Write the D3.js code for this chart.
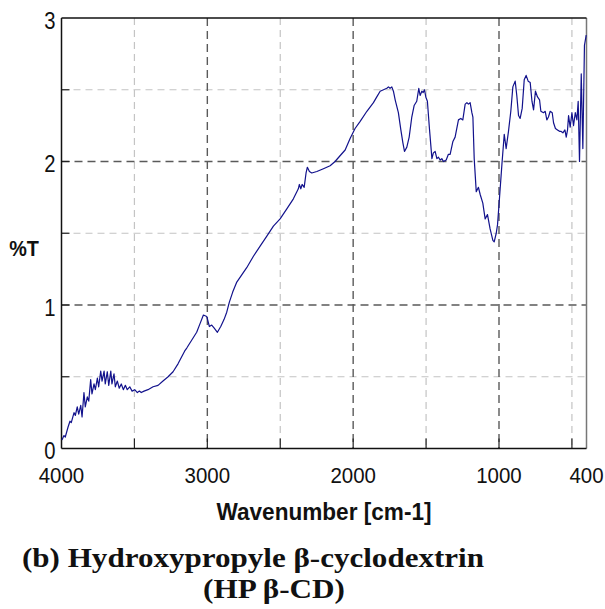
<!DOCTYPE html>
<html>
<head>
<meta charset="utf-8">
<script src="https://cdn.jsdelivr.net/npm/d3@7"></script>
<style>
  html, body { margin: 0; padding: 0; background: #fff; }
  svg { display: block; }
</style>
</head>
<body>
<svg id="chart" width="605" height="609"></svg>
<script>
// Spectrum (wavenumber cm-1, %T)
const wavenumber = [3997,3983,3974,3955,3942,3933,3914,3905,3892,3882,3868,3859,3846,3837,3823,3813,3800,3791,3777,3768,3754,3745,3731,3722,3708,3700,3686,3676,3662,3654,3640,3631,3617,3604,3590,3576,3562,3549,3532,3516,3498,3480,3466,3453,3434,3407,3372,3338,3304,3269,3235,3201,3155,3141,3073,3050,3027,3004,2986,2970,2954,2931,2908,2885,2867,2849,2826,2798,2764,2730,2684,2638,2592,2547,2501,2455,2410,2376,2369,2359,2350,2336,2323,2314,2300,2284,2249,2204,2158,2124,2090,2055,2021,1987,1952,1906,1861,1838,1815,1792,1769,1758,1747,1735,1724,1712,1690,1673,1659,1648,1632,1616,1598,1582,1564,1550,1541,1529,1520,1511,1502,1491,1477,1460,1450,1438,1426,1415,1403,1392,1381,1362,1347,1335,1316,1301,1278,1262,1248,1232,1220,1210,1198,1186,1179,1170,1156,1141,1129,1111,1095,1079,1061,1042,1033,1019,1010,997,980,964,951,935,919,905,889,878,866,855,841,827,814,800,786,774,763,750,736,722,713,695,683,672,661,649,635,626,613,599,585,576,562,548,539,530,523,512,500,489,477,466,457,448,436,425,414,402];
const transmittance = [0.06,0.09,0.08,0.15,0.19,0.18,0.25,0.23,0.29,0.24,0.30,0.22,0.39,0.29,0.36,0.33,0.48,0.38,0.45,0.41,0.49,0.43,0.54,0.47,0.54,0.45,0.535,0.44,0.54,0.45,0.52,0.43,0.47,0.42,0.45,0.41,0.44,0.41,0.43,0.40,0.41,0.39,0.40,0.39,0.40,0.41,0.43,0.44,0.47,0.50,0.535,0.59,0.68,0.70,0.81,0.87,0.93,0.92,0.85,0.86,0.84,0.81,0.85,0.90,0.95,1.02,1.09,1.16,1.21,1.26,1.34,1.41,1.48,1.55,1.60,1.67,1.74,1.81,1.84,1.81,1.84,1.82,1.92,1.96,1.93,1.92,1.93,1.95,1.97,2.00,2.04,2.08,2.16,2.23,2.28,2.35,2.41,2.45,2.49,2.50,2.51,2.52,2.51,2.52,2.49,2.43,2.34,2.22,2.13,2.07,2.10,2.17,2.31,2.39,2.42,2.51,2.46,2.49,2.48,2.50,2.45,2.42,2.23,2.02,2.06,2.07,2.02,2.03,2.01,2.02,2.00,2.01,2.05,2.05,2.14,2.17,2.29,2.30,2.29,2.40,2.41,2.40,2.41,2.34,2.31,2.02,1.79,1.82,1.77,1.71,1.60,1.63,1.53,1.45,1.44,1.50,1.56,1.74,1.98,2.19,2.09,2.21,2.35,2.52,2.56,2.46,2.32,2.30,2.37,2.57,2.60,2.56,2.55,2.42,2.36,2.49,2.45,2.43,2.35,2.34,2.35,2.29,2.31,2.35,2.34,2.27,2.23,2.22,2.21,2.21,2.20,2.22,2.17,2.22,2.32,2.24,2.34,2.25,2.34,2.29,2.42,2.00,2.61,2.09,2.81,2.88];

const xTickLabels = [4000, 3000, 2000, 1000, 400];
const xMinorGrid = [3500, 2500, 1500, 500];
const xMajorGrid = [3000, 2000, 1000];
const xTicks = [3500, 3000, 2500, 2000, 1500, 1000, 500];
const yTickLabels = [0, 1, 2, 3];
const yMinorGrid = [0.5, 1.5, 2.5];
const yMajorGrid = [1, 2];
const yTicks = [0.5, 1, 1.5, 2, 2.5];

const xLabel = "Wavenumber [cm-1]";
const yLabel = "%T";
const caption1 = "(b) Hydroxypropyle \u03b2-cyclodextrin";
const caption2 = "(HP \u03b2-CD)";

const SANS = "'Liberation Sans'";
const SERIF = "'Liberation Serif'";

const svg = d3.select("#chart");
const L = 61.5, R = 586.5, T = 18, B = 448.5;
const x = d3.scaleLinear().domain([4000, 400]).range([L, R]);
const y = d3.scaleLinear().domain([0, 3]).range([B, T]);

const g = svg.append("g");

// grid
g.selectAll(".vminor").data(xMinorGrid).enter().append("line")
  .attr("x1", d => x(d)).attr("x2", d => x(d)).attr("y1", T).attr("y2", B)
  .attr("stroke", "#c4c4c4").attr("stroke-width", 1.2).attr("stroke-dasharray", "7,5");
g.selectAll(".hminor").data(yMinorGrid).enter().append("line")
  .attr("x1", L).attr("x2", R).attr("y1", d => y(d)).attr("y2", d => y(d))
  .attr("stroke", "#c4c4c4").attr("stroke-width", 1.2).attr("stroke-dasharray", "7,5");
g.selectAll(".vmajor").data(xMajorGrid).enter().append("line")
  .attr("x1", d => x(d)).attr("x2", d => x(d)).attr("y1", T).attr("y2", B)
  .attr("stroke", "#5a5a5a").attr("stroke-width", 1.4).attr("stroke-dasharray", "8,5");
g.selectAll(".hmajor").data(yMajorGrid).enter().append("line")
  .attr("x1", L).attr("x2", R).attr("y1", d => y(d)).attr("y2", d => y(d))
  .attr("stroke", "#5a5a5a").attr("stroke-width", 1.4).attr("stroke-dasharray", "8,5");

// inner ticks
g.selectAll(".xt").data(xTicks).enter().append("line")
  .attr("x1", d => x(d)).attr("x2", d => x(d)).attr("y1", B).attr("y2", B - 10)
  .attr("stroke", "#222").attr("stroke-width", 1.2);
g.selectAll(".yt").data(yTicks).enter().append("line")
  .attr("x1", L).attr("x2", L + 8).attr("y1", d => y(d)).attr("y2", d => y(d))
  .attr("stroke", "#222").attr("stroke-width", 1.2);

// frame
g.append("line").attr("x1", R).attr("x2", R).attr("y1", T).attr("y2", B)
  .attr("stroke", "#777").attr("stroke-width", 1.5);
g.append("line").attr("x1", L).attr("x2", R).attr("y1", T).attr("y2", T)
  .attr("stroke", "#111").attr("stroke-width", 1.5);
g.append("line").attr("x1", L).attr("x2", L).attr("y1", T).attr("y2", B)
  .attr("stroke", "#111").attr("stroke-width", 1.5);
g.append("line").attr("x1", L).attr("x2", R).attr("y1", B).attr("y2", B)
  .attr("stroke", "#111").attr("stroke-width", 1.5);

// spectrum
const pts = wavenumber.map((w, i) => [w, transmittance[i]]);
const line = d3.line().x(d => x(d[0])).y(d => y(d[1]));
g.append("path").datum(pts).attr("d", line)
  .attr("fill", "none").attr("stroke", "#12128c").attr("stroke-width", 1.2)
  .attr("stroke-linejoin", "round");

// tick labels (slightly condensed, like the original narrow face)
g.selectAll(".xl").data(xTickLabels).enter().append("text")
  .style("font-family", SANS).style("font-size", "22px")
  .attr("transform", d => `translate(${x(d)},483) scale(0.93,1)`)
  .attr("text-anchor", "middle").attr("fill", "#111")
  .text(d => d);
g.selectAll(".yl").data(yTickLabels).enter().append("text")
  .style("font-family", SANS).style("font-size", "23px")
  .attr("transform", d => `translate(55.5,${y(d) + 10.5}) scale(0.88,1)`)
  .attr("text-anchor", "end").attr("fill", "#111")
  .text(d => d);

// axis titles
g.append("text")
  .style("font-family", SANS).style("font-size", "23px").style("font-weight", "bold")
  .attr("x", 324).attr("y", 520).attr("text-anchor", "middle")
  .attr("textLength", 215).attr("lengthAdjust", "spacingAndGlyphs")
  .attr("fill", "#111").text(xLabel);
g.append("text")
  .style("font-family", SANS).style("font-size", "22px").style("font-weight", "bold")
  .attr("transform", "translate(24,256) scale(0.9,1)")
  .attr("text-anchor", "middle")
  .attr("fill", "#111").text(yLabel);

// caption
g.append("text")
  .style("font-family", SERIF).style("font-size", "28px").style("font-weight", "bold")
  .attr("x", 22).attr("y", 567)
  .attr("textLength", 462).attr("lengthAdjust", "spacingAndGlyphs")
  .attr("fill", "#111").text(caption1);
g.append("text")
  .style("font-family", SERIF).style("font-size", "28px").style("font-weight", "bold")
  .attr("x", 203).attr("y", 598)
  .attr("textLength", 142).attr("lengthAdjust", "spacingAndGlyphs")
  .attr("fill", "#111").text(caption2);
</script>
</body>
</html>
